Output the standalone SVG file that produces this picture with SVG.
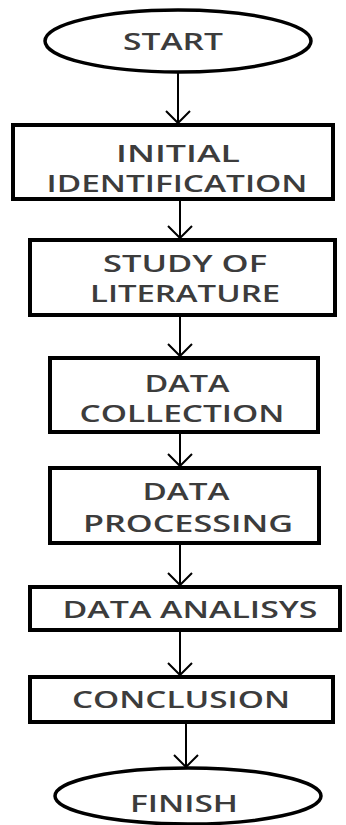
<svg xmlns="http://www.w3.org/2000/svg" width="346" height="825" viewBox="0 0 346 825">
<style>
.box{fill:#fff;stroke:#000;stroke-width:4}
.term{fill:#fff;stroke:#000;stroke-width:3.5}
.lbl{font-family:"Open Sans","Liberation Sans",sans-serif;font-size:24px;font-weight:600;fill:#3c3c3c;text-anchor:middle}
.ln{stroke:#000;stroke-width:2;fill:none}
.ah{stroke:#000;stroke-width:2;fill:none;stroke-linejoin:miter}
</style>
<rect width="346" height="825" fill="#fff"/>
<g id="connectors">
<line class="ln" x1="178" y1="72" x2="178" y2="123"/>
<polyline class="ah" points="166,111 178,123 190,111"/>
<line class="ln" x1="180" y1="199" x2="180" y2="238"/>
<polyline class="ah" points="168,226 180,238 192,226"/>
<line class="ln" x1="180" y1="315" x2="180" y2="356"/>
<polyline class="ah" points="168,344 180,356 192,344"/>
<line class="ln" x1="180" y1="432" x2="180" y2="466"/>
<polyline class="ah" points="168,454 180,466 192,454"/>
<line class="ln" x1="180" y1="543" x2="180" y2="585"/>
<polyline class="ah" points="168,573 180,585 192,573"/>
<line class="ln" x1="180" y1="630" x2="180" y2="675"/>
<polyline class="ah" points="168,663 180,675 192,663"/>
<line class="ln" x1="186" y1="722" x2="186" y2="767"/>
<polyline class="ah" points="174,755 186,767 198,755"/>
</g>
<g id="start">
<ellipse class="term" cx="178" cy="41" rx="133" ry="31"/>
<text class="lbl" x="173" y="50" textLength="100" lengthAdjust="spacingAndGlyphs">START</text>
</g>
<g id="initial-identification">
<rect class="box" x="13" y="125" width="320" height="74"/>
<text class="lbl" x="178" y="162" textLength="124" lengthAdjust="spacingAndGlyphs">INITIAL</text>
<text class="lbl" x="177" y="192" textLength="261" lengthAdjust="spacingAndGlyphs">IDENTIFICATION</text>
</g>
<g id="study-of-literature">
<rect class="box" x="30" y="240" width="305" height="75"/>
<text class="lbl" x="185" y="272" textLength="164" lengthAdjust="spacingAndGlyphs">STUDY OF</text>
<text class="lbl" x="185" y="302" textLength="190" lengthAdjust="spacingAndGlyphs">LITERATURE</text>
</g>
<g id="data-collection">
<rect class="box" x="50" y="358" width="268" height="74"/>
<text class="lbl" x="187" y="392" textLength="85" lengthAdjust="spacingAndGlyphs">DATA</text>
<text class="lbl" x="182" y="422" textLength="205" lengthAdjust="spacingAndGlyphs">COLLECTION</text>
</g>
<g id="data-processing">
<rect class="box" x="50" y="468" width="269" height="75"/>
<text class="lbl" x="186" y="500" textLength="87" lengthAdjust="spacingAndGlyphs">DATA</text>
<text class="lbl" x="188" y="532" textLength="210" lengthAdjust="spacingAndGlyphs">PROCESSING</text>
</g>
<g id="data-analisys">
<rect class="box" x="30" y="587" width="310" height="43"/>
<text class="lbl" x="190" y="618" textLength="255" lengthAdjust="spacingAndGlyphs">DATA ANALISYS</text>
</g>
<g id="conclusion">
<rect class="box" x="30" y="677" width="303" height="45"/>
<text class="lbl" x="181" y="708" textLength="218" lengthAdjust="spacingAndGlyphs">CONCLUSION</text>
</g>
<g id="finish">
<ellipse class="term" cx="188" cy="796" rx="133" ry="28"/>
<text class="lbl" x="184" y="812" textLength="108" lengthAdjust="spacingAndGlyphs">FINISH</text>
</g>
</svg>
